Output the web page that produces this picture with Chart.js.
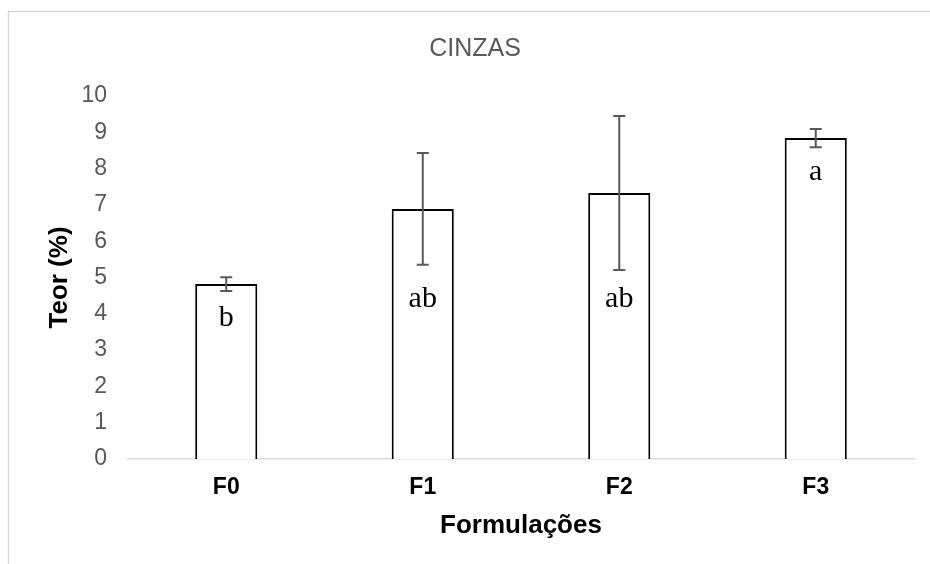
<!DOCTYPE html>
<html>
<head>
<meta charset="utf-8">
<script src="https://cdn.jsdelivr.net/npm/chart.js@4.4.1/dist/chart.umd.min.js"></script>
<style>
  html, body { margin: 0; padding: 0; background: #ffffff; }
  #cinzas-canvas { display: block; }
</style>
</head>
<body>
<canvas id="cinzas-canvas" width="930" height="564"></canvas>
<script>
// values
const categories = ["F0", "F1", "F2", "F3"];
const means = [4.82, 6.89, 7.33, 8.84];
const errors = [0.19, 1.54, 2.12, 0.25];
const letters = ["b", "ab", "ab", "a"];
const letterY = [3.66, 4.2, 4.2, 7.69]; // baseline of the letter, in % units
const yTicks = [0, 1, 2, 3, 4, 5, 6, 7, 8, 9, 10];

const GRAY = "#595959";

// outer frame of the chart (only left and top edges are in view)
const framePlugin = {
  id: "frame",
  beforeDraw: function (chart) {
    const ctx = chart.ctx;
    ctx.save();
    ctx.fillStyle = "#ffffff";
    ctx.fillRect(0, 0, chart.width, chart.height);
    ctx.strokeStyle = "#d9d9d9";
    ctx.lineWidth = 1.5;
    ctx.beginPath();
    ctx.moveTo(8.5, chart.height);
    ctx.lineTo(8.5, 11.5);
    ctx.lineTo(chart.width, 11.5);
    ctx.stroke();
    ctx.restore();
  },
};

// error bars and significance letters
const errorBarPlugin = {
  id: "errorBars",
  afterDatasetsDraw: function (chart) {
    const ctx = chart.ctx;
    const meta = chart.getDatasetMeta(0);
    const y = chart.scales.y;
    ctx.save();
    meta.data.forEach(function (bar, i) {
      const x = bar.x;
      const top = y.getPixelForValue(means[i] + errors[i]);
      const bottom = y.getPixelForValue(means[i] - errors[i]);
      ctx.strokeStyle = GRAY;
      ctx.lineWidth = 2;
      ctx.beginPath();
      ctx.moveTo(x, top);
      ctx.lineTo(x, bottom);
      ctx.moveTo(x - 6, top);
      ctx.lineTo(x + 6, top);
      ctx.moveTo(x - 6, bottom);
      ctx.lineTo(x + 6, bottom);
      ctx.stroke();

      ctx.fillStyle = "#000000";
      ctx.font = "30px 'Liberation Serif', serif";
      ctx.textAlign = "center";
      ctx.textBaseline = "alphabetic";
      ctx.fillText(letters[i], x, y.getPixelForValue(letterY[i]));
    });
    ctx.restore();
  },
};

function cinzasConfig() {
  return {
    type: "bar",
    data: {
      labels: categories,
      datasets: [
        {
          label: "Cinzas",
          data: means,
          backgroundColor: "#ffffff",
          borderColor: "#000000",
          borderWidth: 2,
          borderSkipped: "bottom",
          barPercentage: 0.316,
          categoryPercentage: 1.0,
        },
      ],
    },
    options: {
      responsive: false,
      animation: false,
      devicePixelRatio: 1,
      layout: {
        padding: { top: 0, bottom: 19, left: 36, right: 16 },
      },
      plugins: {
        legend: { display: false },
        tooltip: { enabled: false },
        title: {
          display: true,
          text: "CINZAS",
          color: GRAY,
          font: { family: "'Liberation Sans', Arial, sans-serif", size: 25, weight: "normal", lineHeight: 1.2 },
          padding: { top: 34, bottom: 32 },
        },
      },
      scales: {
        x: {
          grid: { display: false, drawTicks: false },
          border: { display: true, color: "#d9d9d9", width: 1.5 },
          ticks: {
            color: "#000000",
            padding: 15,
            font: { family: "'Liberation Sans', Arial, sans-serif", size: 23, weight: "bold" },
          },
          title: {
            display: true,
            text: "Formulações",
            color: "#000000",
            padding: { top: 4, bottom: 4 },
            font: { family: "'Liberation Sans', Arial, sans-serif", size: 26, weight: "bold" },
          },
          afterFit: function (scale) {
            scale.height = 86;
          },
        },
        y: {
          min: 0,
          max: 10,
          afterBuildTicks: function (scale) {
            scale.ticks = yTicks.map(function (v) { return { value: v }; });
          },
          grid: { display: false, drawTicks: false },
          border: { display: false },
          ticks: {
            color: GRAY,
            padding: 21,
            font: { family: "'Liberation Sans', Arial, sans-serif", size: 23 },
          },
          title: {
            display: true,
            text: "Teor (%)",
            color: "#000000",
            padding: { top: 8, bottom: 4 },
            font: { family: "'Liberation Sans', Arial, sans-serif", size: 26, weight: "bold" },
          },
          afterFit: function (scale) {
            scale.width = 92;
          },
        },
      },
    },
    plugins: [framePlugin, errorBarPlugin],
  };
}

const ctx = document.getElementById("cinzas-canvas").getContext("2d");
window.cinzasChart = new Chart(ctx, cinzasConfig());
</script>
</body>
</html>
